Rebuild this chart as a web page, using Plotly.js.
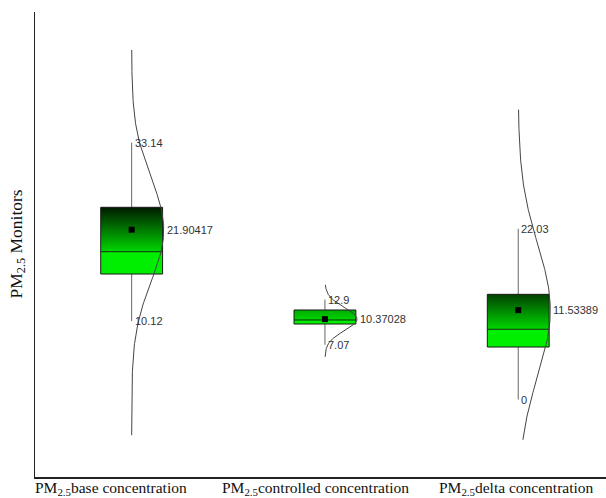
<!DOCTYPE html>
<html>
<head>
<meta charset="utf-8">
<script src="https://cdn.plot.ly/plotly-3.0.1.min.js"></script>
<style>html,body{margin:0;padding:0;background:#fff;overflow:hidden}</style>
</head>
<body>
<div id="chart" style="width:606px;height:498px"></div>
<script>
// ---- data ----
const categories = ['PM<sub>2.5</sub>base concentration', 'PM<sub>2.5</sub>controlled concentration', 'PM<sub>2.5</sub>delta concentration'];
const maxVals = [33.14, 12.9, 22.03];
const minVals = [10.12, 7.07, 0];
const meanVals = [21.90417, 10.37028, 11.53389];
const q3Vals = [24.8, 11.55, 13.57];
const medianVals = [19.07, 10.26, 9.06];
const q1Vals = [16.19, 9.74, 6.77];
const sdVals = [6.7, 1.5, 8.5];          // spread of the fitted normal curves
const curveLo = [-4.6, 5.5, -5.2];       // extent of each drawn curve
const curveHi = [45.1, 14.8, 37.4];
const yTitle = 'PM<sub>2.5</sub> Monitors';

// ---- styling ----
const boxHalf = 0.16;
const curveAmp = 0.166;
const gradSpan = 5.6;
const labelFont = {family: 'Liberation Sans, Arial, sans-serif', size: 11, color: '#333'};
const serif = 'Liberation Serif, Times New Roman, serif';

const traces = [];
const annotations = [];

categories.forEach((cat, i) => {
  // whisker
  traces.push({x: [i, i], y: [minVals[i], maxVals[i]], mode: 'lines', line: {color: '#666', width: 1}, hoverinfo: 'skip'});
  // lower part of box
  traces.push({x: [i - boxHalf, i + boxHalf, i + boxHalf, i - boxHalf, i - boxHalf],
    y: [q1Vals[i], q1Vals[i], medianVals[i], medianVals[i], q1Vals[i]],
    mode: 'lines', fill: 'toself', fillcolor: '#00ee00', line: {width: 0}, hoverinfo: 'skip'});
  // upper part of box with gradient
  traces.push({x: [i - boxHalf, i + boxHalf, i + boxHalf, i - boxHalf, i - boxHalf],
    y: [medianVals[i], medianVals[i], q3Vals[i], q3Vals[i], medianVals[i]],
    mode: 'lines', fill: 'toself', line: {width: 0},
    fillgradient: {type: 'vertical', colorscale: [[0, '#00d600'], [1, '#001e00']], start: medianVals[i], stop: medianVals[i] + gradSpan},
    hoverinfo: 'skip'});
  // outline
  traces.push({x: [i - boxHalf, i + boxHalf, i + boxHalf, i - boxHalf, i - boxHalf],
    y: [q1Vals[i], q1Vals[i], q3Vals[i], q3Vals[i], q1Vals[i]],
    mode: 'lines', line: {color: '#1a1a1a', width: 1}, hoverinfo: 'skip'});
  // median
  traces.push({x: [i - boxHalf, i + boxHalf], y: [medianVals[i], medianVals[i]], mode: 'lines',
    line: {color: '#0c2a0c', width: 1}, hoverinfo: 'skip'});
  // mean
  traces.push({x: [i], y: [meanVals[i]], mode: 'markers', marker: {symbol: 'square', size: 6, color: '#000'}, hoverinfo: 'skip'});
  // fitted normal curve
  const cy = [], cx = [];
  const n = 160;
  for (let k = 0; k <= n; k++) {
    const y = curveLo[i] + (curveHi[i] - curveLo[i]) * k / n;
    cy.push(y);
    cx.push(i + curveAmp * Math.exp(-Math.pow(y - meanVals[i], 2) / (2 * sdVals[i] * sdVals[i])));
  }
  traces.push({x: cx, y: cy, mode: 'lines', line: {color: '#444', width: 1}, hoverinfo: 'skip'});

  // value labels
  annotations.push({x: i, y: maxVals[i], xref: 'x', yref: 'y', text: String(maxVals[i]), showarrow: false,
    xanchor: 'left', yanchor: 'middle', xshift: 1, font: labelFont});
  annotations.push({x: i, y: minVals[i], xref: 'x', yref: 'y', text: String(minVals[i]), showarrow: false,
    xanchor: 'left', yanchor: 'middle', xshift: 1, font: labelFont});
  annotations.push({x: i + boxHalf, y: meanVals[i], xref: 'x', yref: 'y', text: String(meanVals[i]), showarrow: false,
    xanchor: 'left', yanchor: 'middle', xshift: 2, font: labelFont});
});

// category labels below the axis
const labelLeft = [-0.0035, 0.324, 0.704];
categories.forEach((cat, i) => {
  annotations.push({x: labelLeft[i], y: 0, xref: 'paper', yref: 'paper', text: cat, showarrow: false,
    xanchor: 'left', yanchor: 'top', yshift: 0, font: {family: serif, size: 15.5, color: '#111'}});
});
annotations.push({x: -0.0315, y: 0.5, xref: 'paper', yref: 'paper', text: yTitle, showarrow: false,
  textangle: -90, xanchor: 'center', yanchor: 'middle', font: {family: serif, size: 17.5, color: '#111'}});

const layout = {
  width: 606, height: 498,
  margin: {l: 35, r: 0, t: 12, b: 21},
  paper_bgcolor: '#fff', plot_bgcolor: '#fff',
  showlegend: false,
  hovermode: false,
  xaxis: {range: [-0.5, 2.454], showgrid: false, zeroline: false, showticklabels: false, ticks: '',
    showline: true, linecolor: '#222', linewidth: 1.5},
  yaxis: {range: [-10, 50], showgrid: false, zeroline: false, showticklabels: false, ticks: '',
    showline: true, linecolor: '#222', linewidth: 1.5},
  annotations: annotations
};

Plotly.newPlot('chart', traces, layout, {staticPlot: true, displayModeBar: false});
</script>
</body>
</html>
